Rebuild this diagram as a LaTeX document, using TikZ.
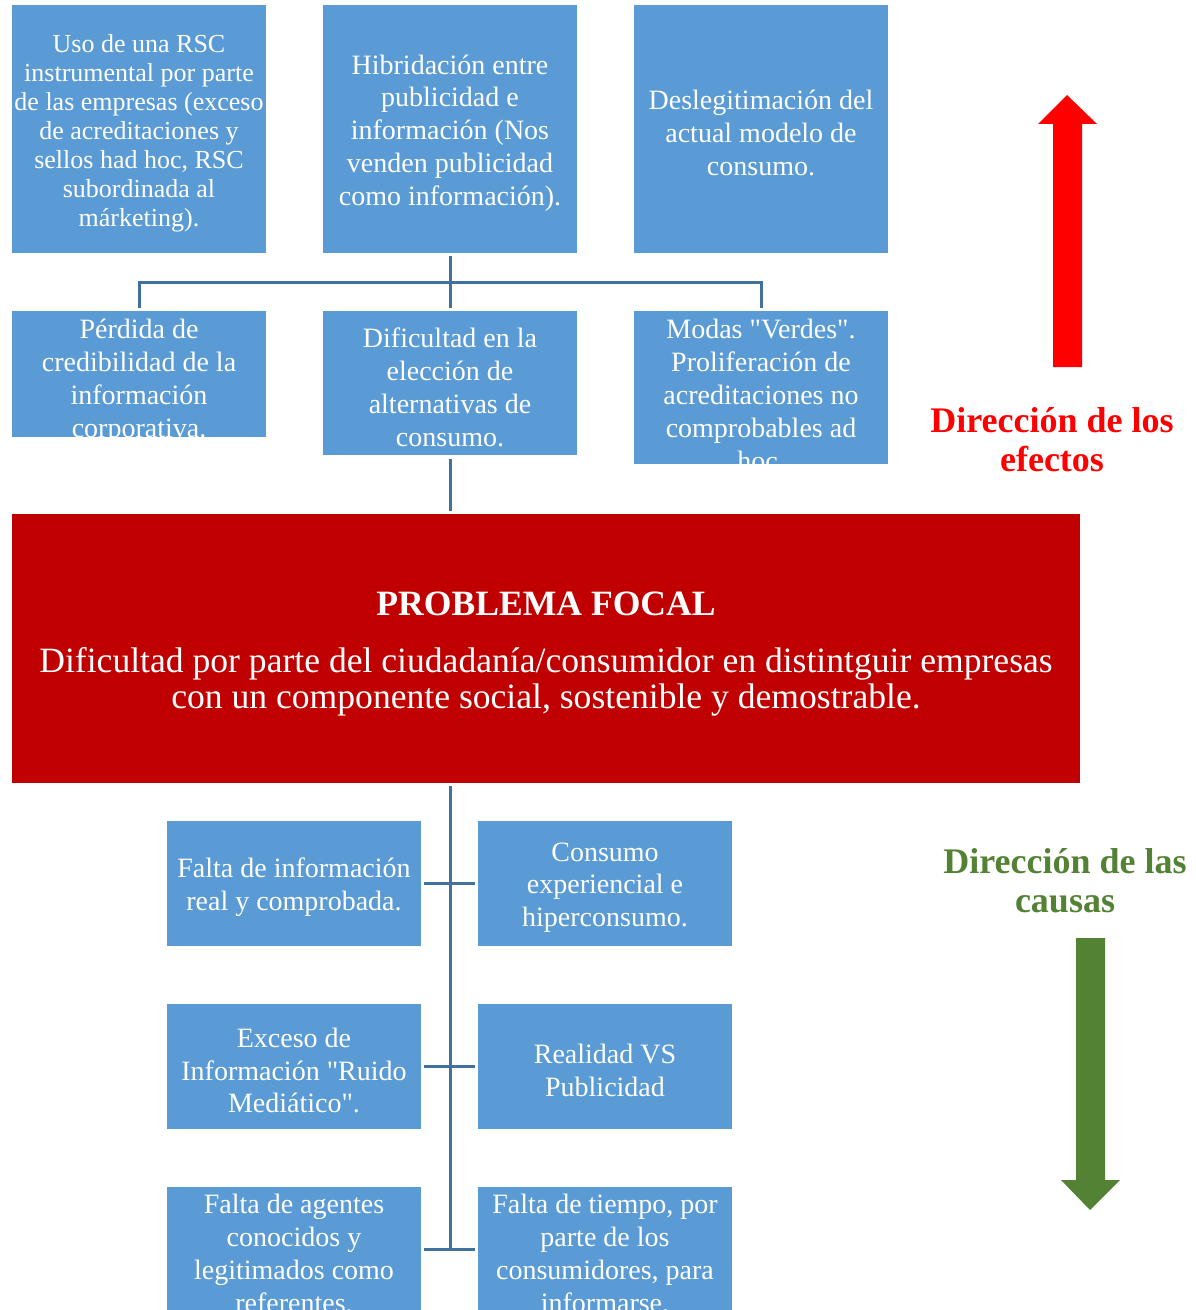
\documentclass[tikz,border=0pt]{standalone}
\usepackage{fontspec}
\setmainfont{Liberation Serif}
\usepackage{tikz}
\usetikzlibrary{positioning}

\definecolor{cellblue}{RGB}{91,155,213}
\definecolor{linkblue}{RGB}{65,113,156}
\definecolor{focored}{RGB}{192,0,0}
\definecolor{causegreen}{RGB}{84,130,53}

\begin{document}
\begin{tikzpicture}[x=0.5pt, y=-0.5pt, node distance=91.5pt and 155.5pt, on grid,
cell/.style={fill=cellblue, inner sep=0pt, minimum width=127pt, minimum height=#1},
cell/.default=62.5pt,
celltext/.style={text=white, align=center, inner sep=0pt, yshift=-2pt, font=\fontsize{14}{16.4}\selectfont},
link/.style={draw=linkblue, line width=1.5pt, shorten >=1.5pt, shorten <=1.5pt},
arrowtext/.style={align=center, font=\bfseries\fontsize{18}{19.5}\selectfont}]
\useasboundingbox (0,0) rectangle (1195,1310);

% efectos
\node [cell=124pt] (ef1) at (139,129) {};
\node [cell=124pt] (ef2) [right = of ef1] {};
\node [cell=124pt] (ef3) [right = of ef2] {};
\node [cell=63pt, anchor=north] (ce1) at (139,311) {};
\node [cell=72pt, anchor=north] (ce2) at (450,311) {};
\node [cell=76.5pt, anchor=north] (ce3) at (761,311) {};

\node [celltext, font=\fontsize{13}{14.5}\selectfont] (ef1t) at (ef1) {Uso de una RSC\\ instrumental por parte\\ de las empresas (exceso\\ de acreditaciones y\\ sellos had hoc, RSC\\ subordinada al\\ márketing).};
\node [celltext] (ef2t) at (ef2) {Hibridación entre\\ publicidad e\\ información (Nos\\ venden publicidad\\ como información).};
\node [celltext] (ef3t) at (ef3) {Deslegitimación del\\ actual modelo de\\ consumo.};
\node [celltext, yshift=-1.5pt] (ce1t) at (ce1) {Pérdida de\\ credibilidad de la\\ información\\ corporativa.};
\node [celltext] (ce2t) at (ce2) {Dificultad en la\\ elección de\\ alternativas de\\ consumo.};
\node [celltext, yshift=-1.5pt] (ce3t) at (ce3) {Modas \textquotedbl Verdes\textquotedbl.\\ Proliferación de\\ acreditaciones no\\ comprobables ad\\ hoc.};

% problema focal
\node [fill=focored, inner sep=0pt, minimum width=534pt, minimum height=134.5pt,
  text=white, align=center, font=\fontsize{17.8}{18}\selectfont] (foco) at (546,648.5) {};
\node [text=white, align=center, font=\fontsize{17.8}{18}\selectfont] (focot) at (546,654)
  {\textbf{PROBLEMA FOCAL}\\[10.5pt]
   Dificultad por parte del ciudadanía/consumidor en distintguir empresas\\
   con un componente social, sostenible y demostrable.};

% causas
\node [cell] (ca1) at (294,883.5) {};
\node [cell] (ca2) [right = of ca1] {};
\node [cell] (ca3) [below = of ca1] {};
\node [cell] (ca4) [right = of ca3] {};
\node [cell] (ca5) [below = of ca3] {};
\node [cell] (ca6) [right = of ca5] {};

\node [celltext] (ca1t) at (ca1) {Falta de información\\ real y comprobada.};
\node [celltext] (ca2t) at (ca2) {Consumo\\ experiencial e\\ hiperconsumo.};
\node [celltext] (ca3t) at (ca3) {Exceso de\\ Información \textquotedbl Ruido\\ Mediático\textquotedbl.};
\node [celltext] (ca4t) at (ca4) {Realidad VS\\ Publicidad};
\node [celltext] (ca5t) at (ca5) {Falta de agentes\\ conocidos y\\ legitimados como\\ referentes.};
\node [celltext] (ca6t) at (ca6) {Falta de tiempo, por\\ parte de los\\ consumidores, para\\ informarse.};

\draw [link] (ef2) -- (ce2);
\draw [link] (ce1.north) -- ++(0,-28) -| (ce3.north);
\draw [link] (ce2.south) -- (ce2.south |- foco.north);
\draw [link, shorten >=0pt] (ce2.south |- foco.south) -- (ce2.south |- ca5.east);
\draw [link] (ca1) -- (ca2);
\draw [link] (ca3) -- (ca4);
\draw [link] (ca5) -- (ca6);

% direcciones
\fill [red] (1053,367) -- (1053,124) -- (1038,124) -- (1067,95) -- (1097,124)
  -- (1082,124) -- (1082,367) -- cycle;
\node [arrowtext, text=red] (efectos) at (1052,440) {Dirección de los\\ efectos};
\node [arrowtext, text=causegreen] (causas) at (1065,881) {Dirección de las\\ causas};
\fill [causegreen] (1076,938) -- (1105,938) -- (1105,1180) -- (1120,1180)
  -- (1090,1210) -- (1061,1180) -- (1076,1180) -- cycle;

\end{tikzpicture}
\end{document}
